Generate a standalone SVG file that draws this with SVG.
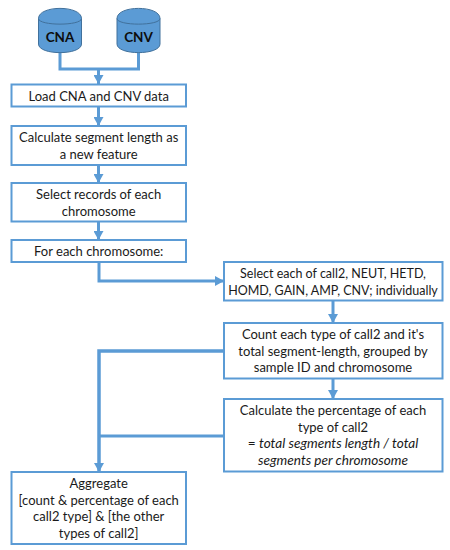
<svg xmlns="http://www.w3.org/2000/svg" width="450" height="550" viewBox="0 0 450 550">
<style>
.box{fill:#fff;stroke:#5b9bd5;stroke-width:2}
.cyl{fill:#5b9bd5;stroke:#41719c;stroke-width:1}
.t{font-family:Lato,"Liberation Sans",sans-serif;font-size:13px;fill:#1a1a1a;text-anchor:middle}
.s{font-size:12.5px}
.i{font-style:italic;font-size:13.6px}
.b{font-family:Lato,"Liberation Sans",sans-serif;font-size:13.5px;font-weight:700;fill:#0d0d0d;text-anchor:middle}
.c{fill:none;stroke:#5b9bd5;stroke-width:3}
</style>
<defs>
<marker id="a" markerUnits="userSpaceOnUse" markerWidth="10" markerHeight="10" refX="9" refY="5" orient="auto"><path d="M0 0L9 5L0 10Z" fill="#5b9bd5"/></marker>
</defs>
<g id="connectors">
<path class="c" d="M60 50V69H138.500V50"/>
<path class="c" d="M98.500 69V84" marker-end="url(#a)"/>
<path class="c" d="M98.500 107V126" marker-end="url(#a)"/>
<path class="c" d="M98.500 165V183" marker-end="url(#a)"/>
<path class="c" d="M98.500 222V240" marker-end="url(#a)"/>
<path class="c" d="M99 262V281H224" marker-end="url(#a)"/>
<path class="c" d="M333 301V323" marker-end="url(#a)"/>
<path class="c" d="M333 379V399" marker-end="url(#a)"/>
<path class="c" d="M224 351H99V472" marker-end="url(#a)" style="stroke-width:3.500"/>
<path class="c" d="M224 436H99"/>
</g>
<g id="cna"><path class="cyl" d="M38.500 18.500C38.500 5 81.500 5 81.500 18.500V44C81.500 55.500 38.500 55.500 38.500 44Z"/><path class="cyl" style="fill:none" d="M38.500 18.500C38.500 26 81.500 26 81.500 18.500"/><text class="b" x="60" y="41.500">CNA</text></g>
<g id="cnv"><path class="cyl" d="M117 18.500C117 5 160 5 160 18.500V44C160 55.500 117 55.500 117 44Z"/><path class="cyl" style="fill:none" d="M117 18.500C117 26 160 26 160 18.500"/><text class="b" x="138.500" y="41.500">CNV</text></g>
<g id="load"><rect class="box" x="11.500" y="84.500" width="174.500" height="22"/><text class="t" x="98.700" y="100.500">Load CNA and CNV data</text></g>
<g id="calc"><rect class="box" x="11.500" y="126" width="174.500" height="39"/><text class="t" x="98.700" y="142">Calculate segment length as</text><text class="t" x="98.700" y="158.500">a new feature</text></g>
<g id="select"><rect class="box" x="11.500" y="183" width="174.500" height="38.500"/><text class="t" x="98.700" y="199">Select records of each</text><text class="t" x="98.700" y="215.500">chromosome</text></g>
<g id="foreach"><rect class="box" x="11.500" y="240" width="174.500" height="22"/><text class="t" x="98.700" y="255.500">For each chromosome:</text></g>
<g id="selecteach"><rect class="box" x="224" y="262" width="218.500" height="38.500"/><text class="t s" x="333" y="278">Select each of call2, NEUT, HETD,</text><text class="t s" x="333" y="294.500">HOMD, GAIN, AMP, CNV; individually</text></g>
<g id="count"><rect class="box" x="224" y="323" width="218.500" height="55.500"/><text class="t" x="333" y="339">Count each type of call2 and it's</text><text class="t" x="333" y="355.500">total segment-length, grouped by</text><text class="t" x="333" y="372">sample ID and chromosome</text></g>
<g id="percent"><rect class="box" x="224" y="399" width="218.500" height="72.500"/><text class="t" x="333" y="415">Calculate the percentage of each</text><text class="t" x="333" y="431.500">type of call2</text><text class="t i" x="333" y="448"><tspan font-style="normal">= </tspan>total segments length / total</text><text class="t i" x="333" y="464.500">segments per chromosome</text></g>
<g id="aggregate"><rect class="box" x="11.500" y="472" width="174.500" height="72"/><text class="t" x="98.700" y="488">Aggregate</text><text class="t" x="98.700" y="504.500">[count &amp; percentage of each</text><text class="t" x="98.700" y="521">call2 type] &amp; [the other</text><text class="t" x="98.700" y="537.500">types of call2]</text></g>
</svg>
